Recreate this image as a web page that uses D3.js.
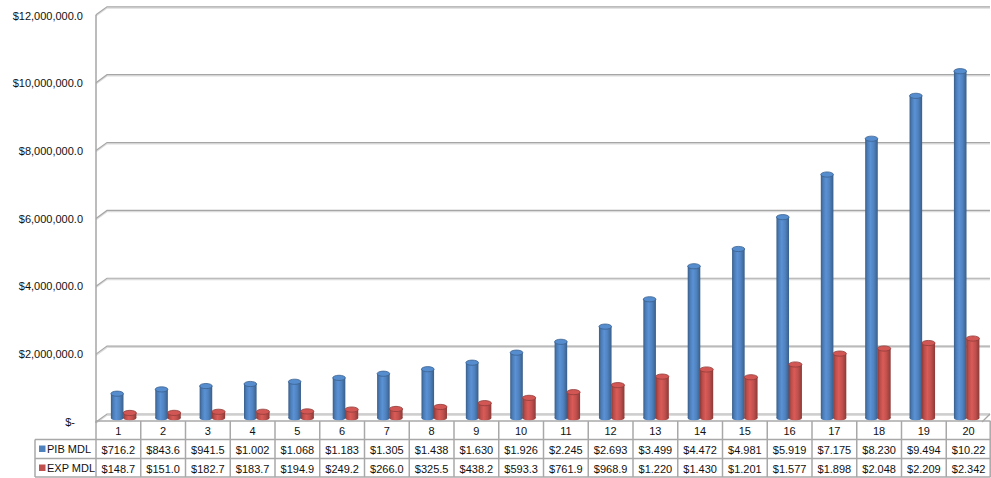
<!DOCTYPE html>
<html><head><meta charset="utf-8">
<script src="https://cdn.jsdelivr.net/npm/d3@7"></script>
<style>
html,body{margin:0;padding:0;background:#fff;}
svg{display:block;font-family:"Liberation Sans",Arial,sans-serif;}
</style></head>
<body>
<svg id="chart" width="991" height="478"></svg>
<script>
const categories = ["1","2","3","4","5","6","7","8","9","10","11","12","13","14","15","16","17","18","19","20"];
const seriesNames = ["PIB MDL","EXP MDL"];
const pibValues = [716200,843600,941500,1002000,1068000,1183000,1305000,1438000,1630000,1926000,2245000,2693000,3499000,4472000,4981000,5919000,7175000,8230000,9494000,10220000];
const expValues = [148700,151000,182700,183700,194900,249200,266000,325500,438200,593300,761900,968900,1220000,1430000,1201000,1577000,1898000,2048000,2209000,2342000];
const pibLabels = ["$716.2","$843.6","$941.5","$1.002","$1.068","$1.183","$1.305","$1.438","$1.630","$1.926","$2.245","$2.693","$3.499","$4.472","$4.981","$5.919","$7.175","$8.230","$9.494","$10.22"];
const expLabels = ["$148.7","$151.0","$182.7","$183.7","$194.9","$249.2","$266.0","$325.5","$438.2","$593.3","$761.9","$968.9","$1.220","$1.430","$1.201","$1.577","$1.898","$2.048","$2.209","$2.342"];
const tickValues = [0,2000000,4000000,6000000,8000000,10000000,12000000];

const svg = d3.select("#chart");
const colors = {pib:"#4f81bd", exp:"#c0504d"};

// geometry
const wallLeftX = 96, depthX = 11, depthY = 8, wallRight = 990;
const yBack = d3.scaleLinear().domain([0,12000000]).range([414,6.8]);
const yBar = d3.scaleLinear().domain([0,12000000]).range([418,10.8]);
const xBand = d3.scaleBand().domain(categories).range([101.3,988.7]).padding(0);
const tableLeft = 96, tableRight = 991;
const xCol = d3.scaleBand().domain(categories).range([tableLeft, tableRight]).padding(0);

// defs: gradients
const defs = svg.append("defs");
function cylGrad(id, base){
  const c = d3.color(base);
  const g = defs.append("linearGradient").attr("id",id).attr("x1","0%").attr("x2","100%").attr("y1","0%").attr("y2","0%");
  g.append("stop").attr("offset","0%").attr("stop-color",c.darker(0.9));
  g.append("stop").attr("offset","18%").attr("stop-color",c.darker(0.1));
  g.append("stop").attr("offset","42%").attr("stop-color",c.brighter(0.35));
  g.append("stop").attr("offset","70%").attr("stop-color",c);
  g.append("stop").attr("offset","100%").attr("stop-color",c.darker(0.9));
}
cylGrad("gPib", colors.pib);
cylGrad("gExp", colors.exp);

// back wall gridlines (with side-wall diagonal)
const grid = svg.append("g");
tickValues.forEach(v=>{
  const yb = yBack(v);
  const pts = [[wallLeftX, yb+depthY],[wallLeftX+depthX, yb],[wallRight, yb]];
  grid.append("path").attr("d", d3.line()(pts.map(p=>[p[0],p[1]+1.3])))
    .attr("fill","none").attr("stroke","#dcdcdc").attr("stroke-width",1.2);
  grid.append("path").attr("d", d3.line()(pts))
    .attr("fill","none").attr("stroke","#a6a6a6").attr("stroke-width",1.2);
});
// floor front and right edge
grid.append("path").attr("d", d3.line()([[wallRight-8, yBack(0)+depthY],[wallRight, yBack(0)]]))
  .attr("fill","none").attr("stroke","#a6a6a6").attr("stroke-width",1.2);
// front-left vertical edge
grid.append("line").attr("x1",wallLeftX).attr("x2",wallLeftX)
  .attr("y1",yBack(12000000)+depthY).attr("y2",yBack(0)+depthY+1)
  .attr("stroke","#a6a6a6").attr("stroke-width",1.5);

// axis labels via d3.axisLeft
const yFront = d3.scaleLinear().domain([0,12000000]).range([yBack(0)+depthY-0.5, yBack(12000000)+depthY+1]);
const fmt = d => d===0 ? "$-" : "$" + d3.format(",.1f")(d);
const axis = svg.append("g").attr("transform","translate(83,0)")
  .call(d3.axisLeft(yFront).tickValues(tickValues).tickFormat(fmt).tickSize(0).tickPadding(0));
axis.select(".domain").remove();
axis.selectAll("text").attr("font-size","11px").attr("fill","#111").attr("font-family","Liberation Sans, Arial, sans-serif")
  .attr("dx", d => d===0 ? -8 : 0);

// bars (cylinders)
const bw = 12.6, ry = 2.6;
function cylinder(g, x0, w, v, gradId, base){
  const yt = yBar(v), yb = yBar(0);
  const c = d3.color(base);
  g.append("ellipse").attr("cx",x0+w/2).attr("cy",yb).attr("rx",w/2).attr("ry",ry)
    .attr("fill",`url(#${gradId})`);
  g.append("rect").attr("x",x0).attr("y",yt).attr("width",w).attr("height",Math.max(0,yb-yt))
    .attr("fill",`url(#${gradId})`);
  g.append("ellipse").attr("cx",x0+w/2).attr("cy",yt).attr("rx",w/2).attr("ry",ry)
    .attr("fill",c.brighter(0.25)).attr("stroke",c.darker(0.8)).attr("stroke-width",0.8);
}
const bars = svg.append("g");
categories.forEach((cat,i)=>{
  const cx = xBand(cat) + xBand.bandwidth()/2;
  cylinder(bars, cx-bw, bw, pibValues[i], "gPib", colors.pib);
  cylinder(bars, cx-0.3, bw+0.6, expValues[i], "gExp", colors.exp);
});

// data table
const rowTop = [421, 439.5, 458.5, 477];
const tbl = svg.append("g");
const lineC = "#a8a8a8";
// horizontal lines
tbl.append("line").attr("x1",tableLeft).attr("x2",tableRight-0.5).attr("y1",rowTop[0]).attr("y2",rowTop[0]).attr("stroke",lineC).attr("stroke-width",1.5);
[1,2,3].forEach(k=>{
  tbl.append("line").attr("x1",35).attr("x2",tableRight-0.5).attr("y1",rowTop[k]).attr("y2",rowTop[k]).attr("stroke",lineC).attr("stroke-width",1.5);
});
// vertical lines
categories.forEach(cat=>{
  const x = xCol(cat);
  tbl.append("line").attr("x1",x).attr("x2",x).attr("y1",rowTop[0]).attr("y2",rowTop[3]).attr("stroke",lineC).attr("stroke-width",1.5);
});
tbl.append("line").attr("x1",tableRight-0.8).attr("x2",tableRight-0.8).attr("y1",rowTop[0]).attr("y2",rowTop[3]).attr("stroke",lineC).attr("stroke-width",1.5);
tbl.append("line").attr("x1",35).attr("x2",35).attr("y1",rowTop[1]).attr("y2",rowTop[3]).attr("stroke",lineC).attr("stroke-width",1.5);

const txt = (x,y,s,anchor)=>tbl.append("text").attr("x",x).attr("y",y).attr("text-anchor",anchor||"middle")
  .attr("font-size","11px").attr("fill","#111").text(s);
categories.forEach((cat,i)=>{
  const cx = xCol(cat)+xCol.bandwidth()/2;
  txt(cx, 434.5, cat);
  txt(cx, 453.5, pibLabels[i]);
  txt(cx, 472.5, expLabels[i]);
});
// legend keys
[[colors.pib, seriesNames[0], 449],[colors.exp, seriesNames[1], 468]].forEach(([c,name,yc])=>{
  tbl.append("rect").attr("x",39).attr("y",yc-3.5).attr("width",6.5).attr("height",6.5).attr("fill",c);
  txt(47, yc+4, name, "start");
});
</script>
</body></html>
